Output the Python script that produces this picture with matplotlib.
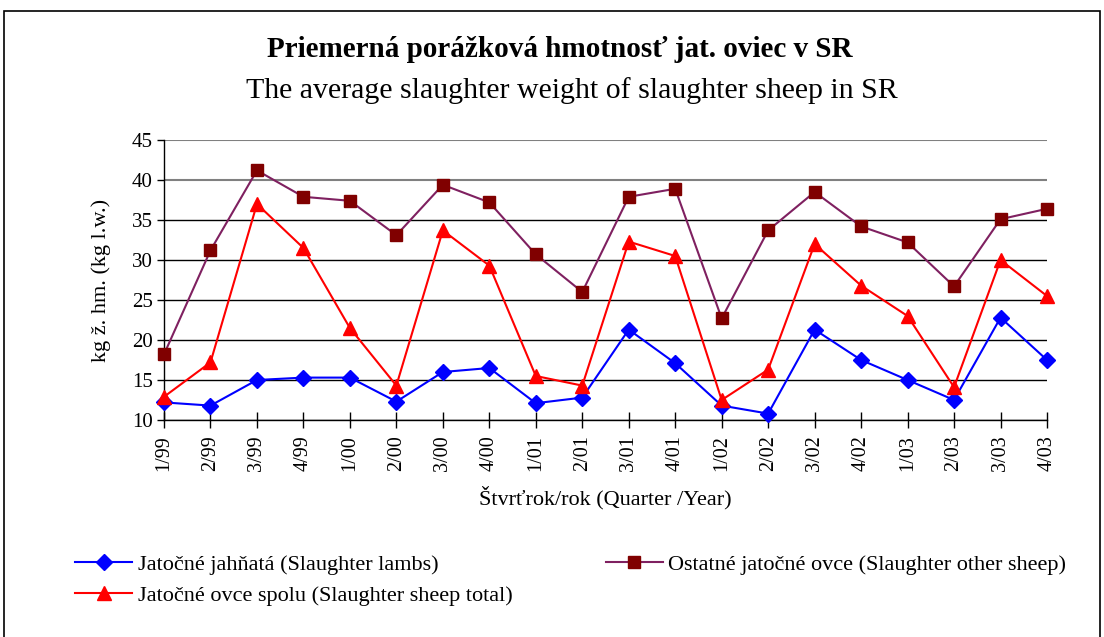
import matplotlib
matplotlib.use("Agg")
import matplotlib.pyplot as plt
from matplotlib.patches import Rectangle

plt.rcParams['font.family'] = ['Liberation Serif', 'DejaVu Serif']

quarters = ["1/99", "2/99", "3/99", "4/99", "1/00", "2/00", "3/00", "4/00",
            "1/01", "2/01", "3/01", "4/01", "1/02", "2/02", "3/02", "4/02",
            "1/03", "2/03", "3/03", "4/03"]

lambs = [12.2, 11.8, 15.0, 15.3, 15.3, 12.3, 16.0, 16.5, 12.1, 12.8,
         21.3, 17.1, 11.8, 10.8, 21.3, 17.5, 15.0, 12.5, 22.8, 17.5]
other = [18.2, 31.2, 41.2, 37.9, 37.4, 33.1, 39.4, 37.2, 30.7, 26.0,
         37.9, 38.9, 22.7, 33.7, 38.5, 34.2, 32.2, 26.7, 35.1, 36.4]
total = [12.9, 17.2, 37.0, 31.5, 21.5, 14.3, 33.7, 29.3, 15.5, 14.3,
         32.3, 30.5, 12.5, 16.3, 32.0, 26.8, 23.0, 14.1, 30.0, 25.5]

W, H = 1104, 637
fig = plt.figure(figsize=(W / 100, H / 100), dpi=100)

# outer frame
fig.patches.append(Rectangle((4 / W, -0.05), 1096 / W, 1.05 - 11 / H,
                             transform=fig.transFigure, fill=False,
                             edgecolor='black', linewidth=1.2))

ax = fig.add_axes([164 / W, 1 - 420 / H, (1047 - 164) / W, 280 / H])
x = list(range(len(quarters)))

l1, = ax.plot(x, lambs, color='#0000FF', marker='D', markersize=8, linewidth=1.5,
              label='Jatočné jahňatá (Slaughter lambs)', zorder=3, clip_on=False)
l2, = ax.plot(x, other, color='#7F2060', marker='s', markersize=8,
              markerfacecolor='#800000', markeredgecolor='#800000', linewidth=1.5,
              label='Ostatné jatočné ovce (Slaughter other sheep)', zorder=3,
              clip_on=False)
l3, = ax.plot(x, total, color='#FF0000', marker='^', markersize=10, linewidth=1.5,
              label='Jatočné ovce spolu (Slaughter sheep total)', zorder=3,
              clip_on=False)

ax.set_xlim(0, len(quarters) - 1)
ax.set_ylim(10, 45)
ax.set_yticks(range(10, 46, 5))
ax.set_xticks(x)
ax.set_xticklabels(quarters, rotation=90, fontsize=14.5)
ax.tick_params(axis='y', labelsize=15, direction='out', length=5, width=1, pad=3)
ax.tick_params(axis='x', direction='inout', length=12, width=1, pad=5)

for s in ['top', 'right']:
    ax.spines[s].set_visible(False)
ax.spines['left'].set_linewidth(1)
ax.spines['bottom'].set_linewidth(1)

ax.yaxis.grid(True, color='black', linewidth=1)
ax.set_axisbelow(True)
for val, gl in zip(ax.get_yticks(), ax.get_ygridlines()):
    if val >= 40:
        gl.set_color('#808080')
        gl.set_linewidth(1.5)

ax.set_ylabel("kg ž. hm. (kg l.w.)", fontsize=16, labelpad=15)
ax.set_xlabel("Štvrťrok/rok (Quarter /Year)", fontsize=16, labelpad=11)

fig.text(0.507, 1 - 57 / H, "Priemerná porážková hmotnosť jat. oviec v SR",
         ha='center', va='baseline', fontsize=21, fontweight='bold')
fig.text(0.518, 1 - 98 / H, "The average slaughter weight of slaughter sheep in SR",
         ha='center', va='baseline', fontsize=21.5)

fig.legend(handles=[l1, l3, l2], ncol=2, frameon=False, fontsize=16,
           loc='upper left', bbox_to_anchor=(75 / W, 1 - 554 / H),
           borderpad=0, borderaxespad=0,
           handlelength=2.57, handletextpad=0.25, columnspacing=4.2,
           labelspacing=0.5)

fig.savefig("out.png", dpi=100)
